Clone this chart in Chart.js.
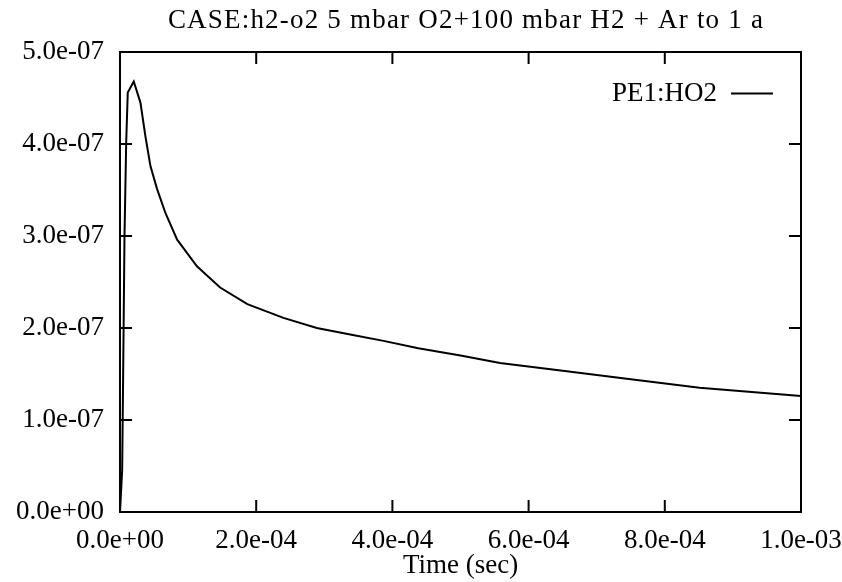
<!DOCTYPE html>
<html>
<head>
<meta charset="utf-8">
<script src="https://cdn.jsdelivr.net/npm/chart.js@4/dist/chart.umd.min.js"></script>
<style>
  html, body { margin: 0; padding: 0; background: #fff; }
  #wrap { width: 842px; height: 582px; }
</style>
</head>
<body>
<div id="wrap"><canvas id="plot"></canvas></div>
<script>
// time (sec) and HO2 values
const times = [0, 3.2e-6, 4.7e-6, 6.6e-6, 9.1e-6, 1.14e-5, 2.02e-5, 3.0e-5, 3.74e-5, 4.47e-5,
  5.45e-5, 6.67e-5, 8.39e-5, 1.13e-4, 1.47e-4, 1.87e-4, 2.40e-4, 2.89e-4, 3.38e-4, 3.87e-4,
  4.38e-4, 5.0e-4, 5.58e-4, 6.56e-4, 7.53e-4, 8.51e-4, 1.0e-3];
const ho2 = [0, 0.46e-7, 1.55e-7, 3.0e-7, 4.02e-7, 4.56e-7, 4.68e-7, 4.45e-7, 4.08e-7, 3.76e-7,
  3.51e-7, 3.25e-7, 2.96e-7, 2.67e-7, 2.44e-7, 2.26e-7, 2.11e-7, 2.00e-7, 1.93e-7, 1.86e-7,
  1.78e-7, 1.70e-7, 1.62e-7, 1.53e-7, 1.44e-7, 1.35e-7, 1.26e-7];
const seriesLabel = "PE1:HO2";
const titleText = "CASE:h2-o2 5 mbar O2+100 mbar H2 + Ar to 1 a";
const xTitle = "Time (sec)";

const FONT = "Liberation Serif, Times New Roman, serif";
const FSIZE = 27;

function fmt(v) {
  let s = Number(v).toExponential(1);
  let [m, e] = s.split("e");
  let sign = e[0] === "-" ? "-" : "+";
  let d = e.replace(/[+-]/, "");
  if (d.length < 2) d = "0" + d;
  return m + "e" + sign + d;
}

// frame, inward ticks on all four sides, title and key
const framePlugin = {
  id: "frame",
  afterDraw(chart) {
    const ctx = chart.ctx;
    const a = chart.chartArea;
    const xs = chart.scales.x, ys = chart.scales.y;
    const tl = 12;
    ctx.save();
    ctx.strokeStyle = "#000";
    ctx.lineWidth = 2;
    ctx.strokeRect(a.left, a.top, a.right - a.left, a.bottom - a.top);
    ctx.beginPath();
    xs.ticks.forEach(t => {
      const px = xs.getPixelForValue(t.value);
      ctx.moveTo(px, a.bottom); ctx.lineTo(px, a.bottom - tl);
      ctx.moveTo(px, a.top); ctx.lineTo(px, a.top + tl);
    });
    ys.ticks.forEach(t => {
      const py = ys.getPixelForValue(t.value);
      ctx.moveTo(a.left, py); ctx.lineTo(a.left + tl, py);
      ctx.moveTo(a.right, py); ctx.lineTo(a.right - tl, py);
    });
    ctx.stroke();

    ctx.fillStyle = "#000";
    ctx.font = FSIZE + "px " + FONT;
    ctx.textAlign = "center";
    ctx.textBaseline = "alphabetic";
    ctx.letterSpacing = "1.2px";
    ctx.fillText(titleText, 466, 28);
    ctx.letterSpacing = "0px";

    // key
    ctx.textAlign = "right";
    ctx.textBaseline = "middle";
    ctx.fillText(seriesLabel, 717, 94);
    ctx.beginPath();
    ctx.moveTo(731, 93.5); ctx.lineTo(773, 93.5);
    ctx.stroke();
    ctx.restore();
  }
};

new Chart(document.getElementById("plot"), {
  type: "line",
  data: {
    datasets: [{
      label: seriesLabel,
      data: times.map((t, i) => ({ x: t, y: ho2[i] })),
      borderColor: "#000",
      borderWidth: 2,
      pointRadius: 0,
      tension: 0,
      fill: false
    }]
  },
  options: {
    responsive: true,
    maintainAspectRatio: false,
    animation: false,
    layout: { padding: { top: 52, right: 41, left: 0, bottom: 0 } },
    plugins: { legend: { display: false }, title: { display: false }, tooltip: { enabled: false } },
    scales: {
      x: {
        type: "linear",
        min: 0, max: 1e-3,
        afterFit(s) { s.height = 70; s.paddingLeft = 0; s.paddingRight = 0; },
        grid: { display: false, drawTicks: false },
        border: { display: false },
        ticks: {
          stepSize: 2e-4, maxRotation: 0, autoSkip: false, padding: 13,
          color: "#000", font: { family: FONT, size: FSIZE },
          callback: v => fmt(v)
        },
        title: { display: true, text: xTitle, color: "#000", font: { family: FONT, size: FSIZE }, padding: { top: -7, bottom: 0 } }
      },
      y: {
        min: 0, max: 5e-7,
        afterFit(s) { s.width = 120; s.paddingTop = 0; s.paddingBottom = 0; },
        grid: { display: false, drawTicks: false },
        border: { display: false },
        ticks: {
          stepSize: 1e-7, autoSkip: false, padding: 16,
          color: "#000", font: { family: FONT, size: FSIZE },
          callback: v => fmt(v)
        }
      }
    }
  },
  plugins: [framePlugin]
});
</script>
</body>
</html>
